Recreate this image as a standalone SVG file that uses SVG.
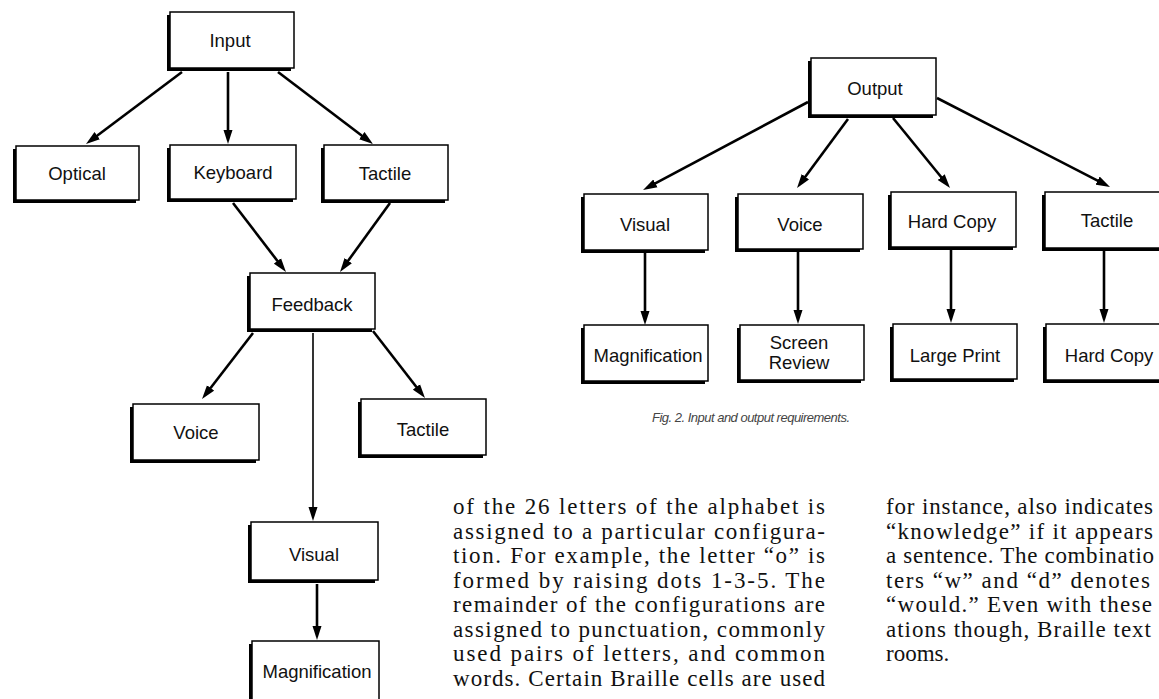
<svg xmlns="http://www.w3.org/2000/svg" width="1159" height="699" viewBox="0 0 1159 699">
<style>
.sh{fill:#000}
.bx{fill:#fff;stroke:#000;stroke-width:1.5}
.lb{font-family:"Liberation Sans",Arial,sans-serif;font-size:18.5px;text-anchor:middle;fill:#111}
.cn{stroke:#000;stroke-width:2.6;fill:none;marker-end:url(#ah)}
.thin{stroke-width:1.6}
.body{font-family:"Liberation Serif","Times New Roman",serif;font-size:23px;fill:#111}
.cap{font-family:"Liberation Sans",Arial,sans-serif;font-size:13px;font-style:italic;fill:#444}
</style>
<defs>
<marker id="ah" markerUnits="userSpaceOnUse" markerWidth="14" markerHeight="10" viewBox="0 0 14 10" refX="6" refY="5" orient="auto"><path d="M0,0.5 L14,5 L0,9.5 z" fill="#000"/></marker>
</defs>
<rect width="1159" height="699" fill="#fff"/>

<g id="connectors">
<path class="cn" d="M182,72 L92.4,139.2"/>
<path class="cn" d="M228,72 L228,136"/>
<path class="cn" d="M278,72 L366.6,139.2"/>
<path class="cn" d="M233,203 L281.1,265.7"/>
<path class="cn" d="M390,203 L344.7,265.5"/>
<path class="cn" d="M253,333 L206.9,392.7"/>
<path class="cn" d="M373,331 L420.1,391.7"/>
<path class="cn thin" d="M313,333 L313,513"/>
<path class="cn" d="M317,584 L317,632"/>
<path class="cn" d="M808,102 L650.1,186.2"/>
<path class="cn" d="M848,119 L801.8,181.6"/>
<path class="cn" d="M893,118 L945,181.8"/>
<path class="cn" d="M937,98 L1102.9,183.3"/>
<path class="cn" d="M645,253 L645,317"/>
<path class="cn" d="M798,252 L798,316"/>
<path class="cn" d="M951,250 L951,315"/>
<path class="cn" d="M1104,251 L1104,315"/>
</g>

<g id="n-input"><rect class="sh" x="167" y="15" width="124" height="56"/><rect class="bx" x="170" y="12" width="124" height="56"/><text class="lb" x="230" y="47">Input</text></g>
<g id="n-optical"><rect class="sh" x="13" y="149" width="123" height="54"/><rect class="bx" x="16" y="146" width="123" height="54"/><text class="lb" x="77" y="180">Optical</text></g>
<g id="n-keyboard"><rect class="sh" x="167" y="148" width="126" height="54"/><rect class="bx" x="170" y="145" width="126" height="54"/><text class="lb" x="233" y="179">Keyboard</text></g>
<g id="n-tactile-in"><rect class="sh" x="321" y="148" width="124" height="55"/><rect class="bx" x="324" y="145" width="124" height="55"/><text class="lb" x="385" y="180">Tactile</text></g>
<g id="n-feedback"><rect class="sh" x="247" y="276" width="125" height="56"/><rect class="bx" x="250" y="273" width="125" height="56"/><text class="lb" x="312" y="311">Feedback</text></g>
<g id="n-voice-fb"><rect class="sh" x="130" y="407" width="126" height="56"/><rect class="bx" x="133" y="404" width="126" height="56"/><text class="lb" x="196" y="439">Voice</text></g>
<g id="n-tactile-fb"><rect class="sh" x="358" y="402" width="125" height="56"/><rect class="bx" x="361" y="399" width="125" height="56"/><text class="lb" x="423" y="436">Tactile</text></g>
<g id="n-visual-fb"><rect class="sh" x="248" y="525" width="127" height="58"/><rect class="bx" x="251" y="522" width="127" height="58"/><text class="lb" x="314" y="561">Visual</text></g>
<g id="n-magnification-fb"><rect class="sh" x="249" y="644" width="127" height="62"/><rect class="bx" x="252" y="641" width="127" height="62"/><text class="lb" x="317" y="678">Magnification</text></g>

<g id="n-output"><rect class="sh" x="808" y="61" width="125" height="57"/><rect class="bx" x="811" y="58" width="125" height="57"/><text class="lb" x="875" y="95">Output</text></g>
<g id="n-visual-out"><rect class="sh" x="581" y="197" width="124" height="56"/><rect class="bx" x="584" y="194" width="124" height="56"/><text class="lb" x="645" y="231">Visual</text></g>
<g id="n-voice-out"><rect class="sh" x="735" y="197" width="125" height="55"/><rect class="bx" x="738" y="194" width="125" height="55"/><text class="lb" x="800" y="231">Voice</text></g>
<g id="n-hardcopy-out"><rect class="sh" x="888" y="195" width="125" height="55"/><rect class="bx" x="891" y="192" width="125" height="55"/><text class="lb" x="952" y="228">Hard Copy</text></g>
<g id="n-tactile-out"><rect class="sh" x="1042" y="195" width="126" height="56"/><rect class="bx" x="1045" y="192" width="126" height="56"/><text class="lb" x="1107" y="227">Tactile</text></g>
<g id="n-magnification-out"><rect class="sh" x="581" y="328" width="124" height="56"/><rect class="bx" x="584" y="325" width="124" height="56"/><text class="lb" x="648" y="362">Magnification</text></g>
<g id="n-screen-review"><rect class="sh" x="737" y="328" width="124" height="55"/><rect class="bx" x="740" y="325" width="124" height="55"/><text class="lb" x="799" y="349">Screen</text><text class="lb" x="799" y="369">Review</text></g>
<g id="n-large-print"><rect class="sh" x="890" y="327" width="124" height="55"/><rect class="bx" x="893" y="324" width="124" height="55"/><text class="lb" x="955" y="362">Large Print</text></g>
<g id="n-hardcopy-tactile"><rect class="sh" x="1043" y="327" width="126" height="56"/><rect class="bx" x="1046" y="324" width="126" height="56"/><text class="lb" x="1109" y="362">Hard Copy</text></g>

<text class="cap" x="652" y="422" textLength="198" lengthAdjust="spacing">Fig. 2. Input and output requirements.</text>

<g id="body-text" class="body">
<text x="453" y="514" textLength="372" lengthAdjust="spacing">of the 26 letters of the alphabet is</text>
<text x="453" y="538.5" textLength="372" lengthAdjust="spacing">assigned to a particular configura-</text>
<text x="453" y="563" textLength="372" lengthAdjust="spacing">tion. For example, the letter “o” is</text>
<text x="453" y="587.5" textLength="372" lengthAdjust="spacing">formed by raising dots 1-3-5. The</text>
<text x="453" y="612" textLength="372" lengthAdjust="spacing">remainder of the configurations are</text>
<text x="453" y="636.5" textLength="372" lengthAdjust="spacing">assigned to punctuation, commonly</text>
<text x="453" y="661" textLength="372" lengthAdjust="spacing">used pairs of letters, and common</text>
<text x="453" y="685.5" textLength="372" lengthAdjust="spacing">words. Certain Braille cells are used</text>
<text x="886" y="514" textLength="267" lengthAdjust="spacing">for instance, also indicates</text>
<text x="886" y="538.5" textLength="267" lengthAdjust="spacing">“knowledge” if it appears</text>
<text x="886" y="563" textLength="268" lengthAdjust="spacing">a sentence. The combinatio</text>
<text x="886" y="587.5" textLength="264" lengthAdjust="spacing">ters “w” and “d” denotes</text>
<text x="886" y="612" textLength="266" lengthAdjust="spacing">“would.” Even with these</text>
<text x="886" y="636.5" textLength="265" lengthAdjust="spacing">ations though, Braille text</text>
<text x="886" y="661">rooms.</text>
</g>
</svg>
